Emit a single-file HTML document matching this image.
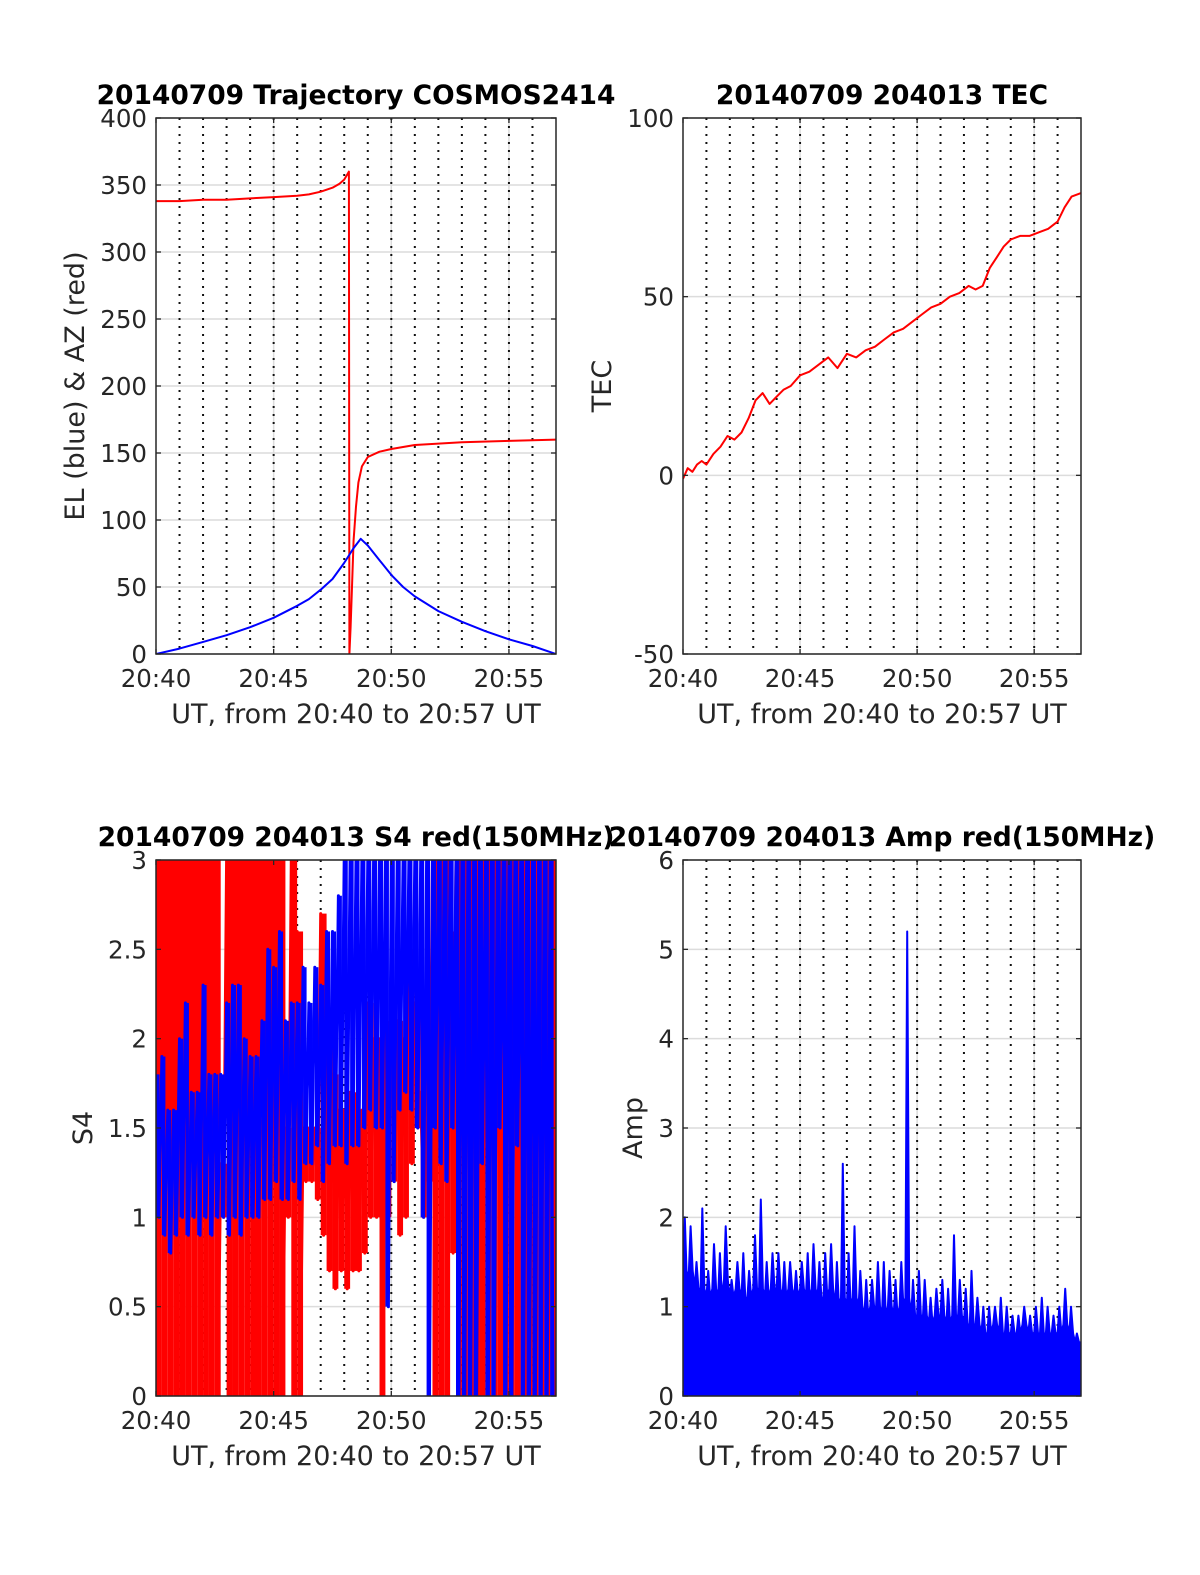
<!DOCTYPE html>
<html><head><meta charset="utf-8"><style>
html,body{margin:0;padding:0;background:#fff;}
svg{display:block;font-family:"DejaVu Sans","Liberation Sans",sans-serif;}
</style></head><body>
<svg id="fig" width="1200" height="1575" viewBox="0 0 1200 1575" xmlns="http://www.w3.org/2000/svg"></svg>
<script>
// ---- data ----
const xTickLabels = ["20:40","20:45","20:50","20:55"];
const xTickMin = [0,5,10,15];
// trajectory
const azT = [0,1,2,3,4,5,6,6.5,7,7.5,7.8,8,8.1,8.2,8.22,8.27,8.33,8.4,8.5,8.6,8.75,9,9.5,10,11,12,13,15,17];
const azV = [338,338,339,339,340,341,342,343,345,348,351,354,357,360,0,20,50,85,110,128,140,147,151,153,156,157,158,159,160];
const elT = [0,1,2,3,4,5,6,6.5,7,7.5,8,8.4,8.7,9,9.5,10,10.5,11,12,13,14,15,16,17];
const elV = [0,4,9,14,20,27,36,41,48,56,68,79,86,81,70,59,50,43,32,24,17,11,6,0];
// TEC
const tecT = [0,0.2,0.4,0.6,0.8,1,1.3,1.6,1.9,2.2,2.5,2.8,3.1,3.4,3.7,4,4.3,4.6,5,5.4,5.8,6.2,6.6,7,7.4,7.8,8.2,8.6,9,9.4,9.8,10.2,10.6,11,11.4,11.8,12.2,12.5,12.8,13.1,13.4,13.7,14,14.4,14.8,15.2,15.6,16,16.3,16.6,17];
const tecV = [-1,2,1,3,4,3,6,8,11,10,12,16,21,23,20,22,24,25,28,29,31,33,30,34,33,35,36,38,40,41,43,45,47,48,50,51,53,52,53,58,61,64,66,67,67,68,69,71,75,78,79];
// S4 per 0.25 min bin: high / low envelope
const s4RedHi = [3,3,3,3,3,3,3,3,3,3,3,1.3,3,3,3,3,3,3,3,3,3,3,1.5,3,2.6,1.5,1.5,1.5,2.7,2.0,1.8,1.6,1.6,1.7,1.6,1.6,2.2,2.0,2.0,2.1,2.2,2.1,2.0,2.5,2.2,1.7,2.0,3,3,3,2.6,3,3,3,3,3,3,3,3,3,3,3,3,3,3,3,3,3];
const s4RedLo = [0,0,0,0,0,0,0,0,0,0,0,1.0,0,0,0,0,0,0,0,0,0,0,1.0,0,0,1.2,1.2,1.1,0.9,0.7,0.6,0.7,0.6,0.7,0.7,0.8,1.0,1.0,0,1.0,1.2,0.9,1.0,1.3,1.5,1.0,1.2,0,0,0,0.8,0,0,0,0,0,0,0,0,0,0,0,0,0,0,0,0,0];
const s4BlueHi = [1.8,1.9,1.6,1.6,2.0,2.2,1.7,1.7,2.3,1.8,1.8,1.8,2.2,2.3,2.3,2.0,1.9,1.9,2.1,2.5,2.4,2.6,2.1,2.2,2.2,2.4,2.2,2.4,2.3,2.6,2.6,2.8,3,3,3,3,3,3,3,3,3,3,3,3,3,3,3,3,3,3,3,3,3,3,3,3,3,3,3,3,3,3,3,3,3,3,3,3];
const s4BlueLo = [1.0,0.9,0.8,0.9,1.0,0.9,1.0,0.9,1.0,0.9,1.0,1.0,0.9,1.0,0.9,1.0,1.0,1.0,1.1,1.1,1.2,1.1,1.1,1.2,1.1,1.3,1.3,1.4,1.2,1.3,1.4,1.4,1.3,1.4,1.4,1.5,1.6,1.5,1.5,0.5,1.2,1.6,1.7,1.6,1.5,1.0,0,1.5,1.3,1.2,1.5,0,0,0,0,1.3,0,0,1.5,0,0,1.4,0,0,0,0,0,0];
// Amp per 0.25 min bin: peaks and valleys
const ampHi = [2.0,1.9,1.5,2.1,1.4,1.7,1.6,1.9,1.3,1.5,1.6,1.4,1.8,2.2,1.5,1.6,1.6,1.5,1.5,1.4,1.5,1.6,1.7,1.5,1.6,1.7,1.5,2.6,1.6,1.9,1.4,1.3,1.3,1.5,1.5,1.4,1.3,1.5,5.2,1.3,1.4,1.3,1.1,1.2,1.3,1.2,1.8,1.3,1.2,1.4,1.1,1.0,1.0,1.0,1.1,1.0,0.9,0.9,1.0,0.9,1.0,1.1,1.0,0.9,1.0,1.2,1.0,0.7];
const ampLo = [1.3,1.4,1.2,1.2,1.1,1.2,1.1,1.3,1.1,1.2,1.1,1.1,1.2,1.2,1.1,1.2,1.2,1.1,1.2,1.1,1.2,1.1,1.2,1.1,1.1,1.2,1.0,1.1,1.0,1.1,1.0,0.9,1.0,1.0,0.9,1.0,0.9,1.0,1.1,0.9,0.9,0.9,0.8,0.9,0.9,0.8,0.9,0.9,0.8,0.8,0.8,0.7,0.7,0.8,0.7,0.7,0.7,0.7,0.8,0.7,0.7,0.7,0.7,0.7,0.7,0.8,0.7,0.6];

// ---- helpers ----
const NS="http://www.w3.org/2000/svg";
const svg=document.getElementById('fig');
function mk(tag,attrs,parent){const e=document.createElementNS(NS,tag);for(const k in attrs)e.setAttribute(k,attrs[k]);(parent||svg).appendChild(e);return e;}
function txt(s,attrs,parent){const e=mk('text',attrs,parent);e.textContent=s;return e;}

function axes(cfg){
  const {x0,x1,y0,y1,ymin,ymax,yticks,ylabels,name}=cfg;
  const g=mk('g',{});
  
  
  const X=t=>x0+(t/17)*(x1-x0);
  const Y=v=>y1-(v-ymin)/(ymax-ymin)*(y1-y0);
  mk('rect',{x:x0,y:y0,width:x1-x0,height:y1-y0,fill:'#fff'},g);
  yticks.forEach(v=>{const l=mk('line',{x1:x0,x2:x1,y1:Y(v),y2:Y(v),stroke:'#dcdcdc','stroke-width':1.5},g);
    });
  for(let m=1;m<17;m++){
    if(m%5===0){const l=mk('line',{x1:X(m),x2:X(m),y1:y0,y2:y1,stroke:'#dcdcdc','stroke-width':1.5},g);
      }
    const d=mk('line',{x1:X(m),x2:X(m),y1:y0,y2:y1,stroke:'#111','stroke-width':2,'stroke-dasharray':'2 6'},g);
    
  }
  const plot=mk('g',{},g);
  
  
  const clipId='c'+name;
  const cp=mk('clipPath',{id:clipId},g);mk('rect',{x:x0,y:y0,width:x1-x0,height:y1-y0},cp);
  plot.setAttribute('clip-path','url(#'+clipId+')');
  return {g,plot,X,Y,finish:()=>{
    const fr=mk('rect',{x:x0,y:y0,width:x1-x0,height:y1-y0,fill:'none',stroke:'#262626','stroke-width':1.5},g);
    
    yticks.forEach((v,i)=>{
      mk('line',{x1:x0,x2:x0+5,y1:Y(v),y2:Y(v),stroke:'#262626','stroke-width':1.3},g);
      mk('line',{x1:x1,x2:x1-5,y1:Y(v),y2:Y(v),stroke:'#262626','stroke-width':1.3},g);
      const t=txt(ylabels[i],{x:x0-9,y:Y(v)+9,'text-anchor':'end','font-size':24.5,fill:'#262626'},g);
      
    });
    xTickMin.forEach((m,i)=>{
      mk('line',{x1:X(m),x2:X(m),y1:y1,y2:y1-5,stroke:'#262626','stroke-width':1.3},g);
      mk('line',{x1:X(m),x2:X(m),y1:y0,y2:y0+5,stroke:'#262626','stroke-width':1.3},g);
      const t=txt(xTickLabels[i],{x:X(m),y:y1+33,'text-anchor':'middle','font-size':24.5,fill:'#262626'},g);
      
    });
    const xl=txt('UT, from 20:40 to 20:57 UT',{x:(x0+x1)/2,y:y1+69,'text-anchor':'middle','font-size':27,fill:'#262626'},g);
    
    const yl=txt(cfg.ylabel,{transform:`translate(${cfg.ylx},${(y0+y1)/2}) rotate(-90)`,'text-anchor':'middle','font-size':27,fill:'#262626'},g);
    
    const ti=txt(cfg.title,{x:(x0+x1)/2,y:y0-14,'text-anchor':'middle','font-size':26.5,'font-weight':'bold',fill:'#000'},g);
    
  }};
}
function line(ax,ts,vs,color,w,name){
  const p=ts.map((t,i)=>ax.X(t).toFixed(1)+','+ax.Y(vs[i]).toFixed(1)).join(' ');
  const el=mk('polyline',{points:p,fill:'none',stroke:color,'stroke-width':w,'stroke-linejoin':'round'},ax.plot);
  
}
function band(ax,hi,lo,color,name,wfrac){
  const n=hi.length,pts=[];
  for(let i=0;i<n;i++){
    const ta=i*17/n, tb=(i+0.5)*17/n;
    pts.push(ax.X(ta).toFixed(1)+','+ax.Y(hi[i]).toFixed(1));
    pts.push(ax.X(tb).toFixed(1)+','+ax.Y(lo[i]).toFixed(1));
  }
  const el=mk('polyline',{points:pts.join(' '),fill:'none',stroke:color,'stroke-width':3,'stroke-linejoin':'round'},ax.plot);
  
  for(let i=0;i<n;i++){
    const ta=i*17/n,tb=(i+1)*17/n,yh=ax.Y(hi[i]),yl=ax.Y(lo[i]);
    const r=mk('rect',{x:ax.X(ta),y:yh,width:(ax.X(tb)-ax.X(ta))*wfrac,height:Math.max(0,yl-yh),fill:color},ax.plot);
    
  }
}

// ---- panel 1: trajectory ----
const a1=axes({x0:156,x1:556,y0:118,y1:654,ymin:0,ymax:400,yticks:[0,50,100,150,200,250,300,350,400],
  ylabels:["0","50","100","150","200","250","300","350","400"],name:'trajectory-chart',
  ylabel:'EL (blue) & AZ (red)',ylx:84,title:'20140709 Trajectory COSMOS2414'});
line(a1,azT,azV,'#ff0000',2,'azimuth-line');
line(a1,elT,elV,'#0000ff',2,'elevation-line');
a1.finish();

// ---- panel 2: TEC ----
const a2=axes({x0:683,x1:1081,y0:118,y1:654,ymin:-50,ymax:100,yticks:[-50,0,50,100],
  ylabels:["-50","0","50","100"],name:'tec-chart',ylabel:'TEC',ylx:611,title:'20140709 204013 TEC'});
line(a2,tecT,tecV,'#ff0000',2,'tec-line');
a2.finish();

// ---- panel 3: S4 ----
const a3=axes({x0:156,x1:556,y0:860,y1:1396,ymin:0,ymax:3,yticks:[0,0.5,1,1.5,2,2.5,3],
  ylabels:["0","0.5","1","1.5","2","2.5","3"],name:'s4-chart',ylabel:'S4',ylx:92,title:'20140709 204013 S4 red(150MHz)'});
band(a3,s4RedHi,s4RedLo,'#ff0000','s4-red-series',1);
band(a3,s4BlueHi,s4BlueLo,'#0000ff','s4-blue-series',0.6);
a3.finish();

// ---- panel 4: Amp ----
const a4=axes({x0:683,x1:1081,y0:860,y1:1396,ymin:0,ymax:6,yticks:[0,1,2,3,4,5,6],
  ylabels:["0","1","2","3","4","5","6"],name:'amp-chart',ylabel:'Amp',ylx:642,title:'20140709 204013 Amp red(150MHz)'});
(function(){
  const n=ampHi.length,pts=[a4.X(0)+','+a4.Y(0)];
  for(let i=0;i<n;i++){
    const ta=i*17/n,tm=(i+0.3)*17/n,tb=(i+0.65)*17/n;
    pts.push(a4.X(ta).toFixed(1)+','+a4.Y(ampLo[i]).toFixed(1));
    pts.push(a4.X(tm).toFixed(1)+','+a4.Y(ampHi[i]).toFixed(1));
    pts.push(a4.X(tb).toFixed(1)+','+a4.Y(ampLo[i]).toFixed(1));
  }
  pts.push(a4.X(17)+','+a4.Y(ampLo[n-1]));
  pts.push(a4.X(17)+','+a4.Y(0));
  const el=mk('polygon',{points:pts.join(' '),fill:'#0000ff',stroke:'#0000ff','stroke-width':2,'stroke-linejoin':'round'},a4.plot);
  
})();
a4.finish();
</script>
</body></html>
